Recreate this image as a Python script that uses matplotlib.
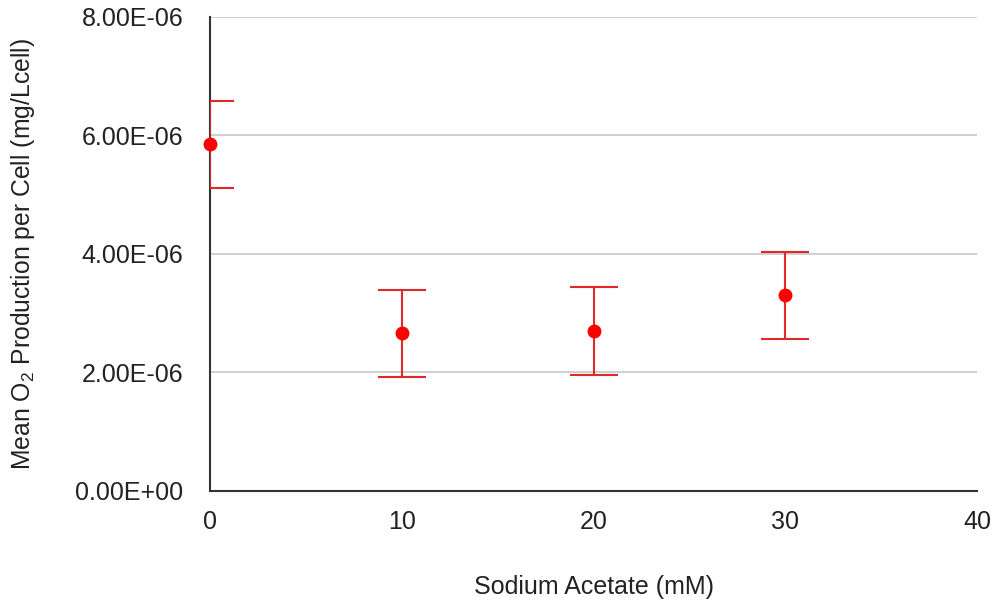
import matplotlib
matplotlib.use('Agg')
import matplotlib.pyplot as plt
from matplotlib.ticker import FuncFormatter

plt.rcParams['font.family'] = ['Liberation Sans', 'DejaVu Sans']
plt.rcParams['mathtext.fontset'] = 'custom'
plt.rcParams['mathtext.rm'] = 'Liberation Sans'

# data
acetate_mm = [0, 10, 20, 30]
mean_o2 = [5.85e-6, 2.66e-6, 2.70e-6, 3.30e-6]
err_o2 = [0.74e-6, 0.735e-6, 0.735e-6, 0.735e-6]
y_ticks = [0, 2e-6, 4e-6, 6e-6, 8e-6]
x_ticks = [0, 10, 20, 30, 40]

fig = plt.figure(figsize=(9.95, 6.02), dpi=100)
ax = fig.add_axes([0.211, 0.1844, 0.771, 0.7874])

ax.errorbar(acetate_mm, mean_o2, yerr=err_o2, fmt='none', ecolor='#e02a2a',
            elinewidth=1.5, capsize=17.3, capthick=1.5, zorder=3)
ax.plot(acetate_mm, mean_o2, 'o', color='#ff0000', markersize=9,
        linestyle='none', clip_on=False, zorder=4)

ax.set_xlim(0, 40)
ax.set_ylim(0, 8e-6)
ax.set_xticks(x_ticks)
ax.set_yticks(y_ticks)
ax.yaxis.set_major_formatter(FuncFormatter(lambda v, p: '%.2E' % v))

ax.grid(axis='y', color='#cccccc', linewidth=1.3)
ax.set_axisbelow(True)
for s in ['top', 'right']:
    ax.spines[s].set_visible(False)
for s in ['left', 'bottom']:
    ax.spines[s].set_color('#333333')
    ax.spines[s].set_linewidth(1.5)

ax.tick_params(axis='both', length=0, labelsize=18, labelcolor='#222222')
ax.tick_params(axis='x', pad=14)
ax.tick_params(axis='y', pad=19)

ax.set_xlabel('Sodium Acetate (mM)', fontsize=18, color='#222222')
ax.set_ylabel(r'Mean O$_2$ Production per Cell (mg/Lcell)', fontsize=17.8, color='#222222')
ax.xaxis.set_label_coords(0.5, -0.177)
ax.yaxis.set_label_coords(-0.2255, 0.5)

fig.savefig('out.png', dpi=100)
